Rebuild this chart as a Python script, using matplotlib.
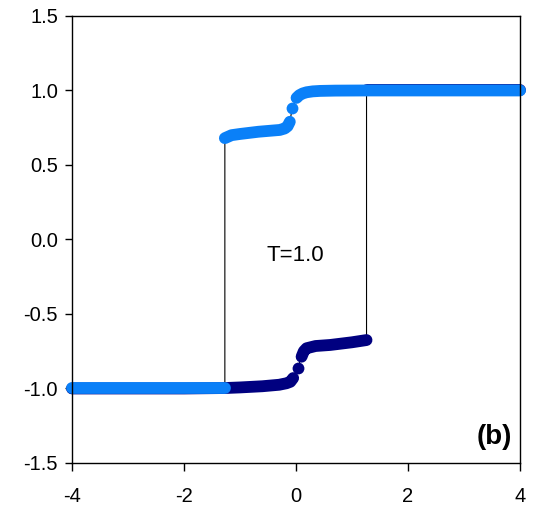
import matplotlib
matplotlib.use('Agg')
import matplotlib.pyplot as plt
from matplotlib.ticker import FormatStrFormatter

plt.rcParams['font.family'] = ['Liberation Sans', 'DejaVu Sans']
plt.rcParams['axes.unicode_minus'] = False

LIGHT = '#0A80F8'
NAVY = '#000080'

# light blue sweep (left to right)
up_low_x = [-4.0, -3.0, -2.0, -1.27]
up_low_y = [-1.0, -1.0, -1.0, -1.0]
up_mid_x = [-1.27, -1.15, -1.0, -0.67, -0.45, -0.29, -0.2, -0.15, -0.11]
up_mid_y = [0.68, 0.70, 0.708, 0.723, 0.73, 0.735, 0.745, 0.76, 0.79]
up_dot_x = [-0.066]
up_dot_y = [0.88]
up_high_x = [0.01, 0.06, 0.12, 0.19, 0.3, 0.43, 0.7, 1.26, 2.0, 3.0, 4.0]
up_high_y = [0.95, 0.968, 0.98, 0.988, 0.994, 0.997, 0.999, 1.0, 1.0, 1.0, 1.0]

# navy sweep (left to right, hidden parts included)
dn_low_x = [-4.0, -2.0, -1.27, -1.0, -0.6, -0.3, -0.17, -0.1, -0.05]
dn_low_y = [-1.0, -1.0, -0.997, -0.993, -0.985, -0.975, -0.965, -0.955, -0.93]
dn_dot_x = [0.03]
dn_dot_y = [-0.864]
dn_mid_x = [0.10, 0.14, 0.19, 0.35, 0.61, 1.0, 1.26]
dn_mid_y = [-0.787, -0.75, -0.73, -0.715, -0.708, -0.69, -0.675]
dn_high_x = [1.26, 2.5, 4.0]
dn_high_y = [1.0, 1.0, 1.0]

fig = plt.figure(figsize=(5.4, 5.15), dpi=100)
ax = fig.add_axes([0.1333, 0.101, 0.8296, 0.868])

# thin black connecting lines
all_dn_x = dn_low_x + dn_dot_x + dn_mid_x + dn_high_x
all_dn_y = dn_low_y + dn_dot_y + dn_mid_y + dn_high_y
all_up_x = up_low_x + up_mid_x + up_dot_x + up_high_x
all_up_y = up_low_y + up_mid_y + up_dot_y + up_high_y
ax.plot(all_dn_x, all_dn_y, color='black', lw=0.8, zorder=1)
ax.plot(all_up_x, all_up_y, color='black', lw=0.8, zorder=1)

thick = dict(lw=8.5, solid_capstyle='round', solid_joinstyle='round')
for xs, ys in [(dn_low_x, dn_low_y), (dn_mid_x, dn_mid_y), (dn_high_x, dn_high_y)]:
    ax.plot(xs, ys, color=NAVY, zorder=2, clip_on=False, **thick)
ax.plot(dn_dot_x, dn_dot_y, 'o', color=NAVY, ms=8.5, mew=0, zorder=2)
for xs, ys in [(up_low_x, up_low_y), (up_mid_x, up_mid_y), (up_high_x, up_high_y)]:
    ax.plot(xs, ys, color=LIGHT, zorder=3, clip_on=False, **thick)
ax.plot(up_dot_x, up_dot_y, 'o', color=LIGHT, ms=8.5, mew=0, zorder=3)

ax.set_xlim(-4, 4)
ax.set_ylim(-1.5, 1.5)
ax.set_xticks([-4, -2, 0, 2, 4])
ax.set_yticks([-1.5, -1.0, -0.5, 0.0, 0.5, 1.0, 1.5])
ax.yaxis.set_major_formatter(FormatStrFormatter('%.1f'))
ax.tick_params(direction='out', length=5, width=1, labelsize=14.5)
ax.tick_params(axis='y', pad=5)
ax.tick_params(axis='x', length=6, pad=11)
for s in ax.spines.values():
    s.set_linewidth(1)
    s.set_zorder(5)

ax.text(-0.02, -0.11, 'T=1.0', fontsize=16, ha='center', va='center')
ax.text(0.982, 0.058, '(b)', transform=ax.transAxes, fontsize=20,
        fontweight='bold', ha='right', va='center')

fig.savefig('out.png', dpi=100)
